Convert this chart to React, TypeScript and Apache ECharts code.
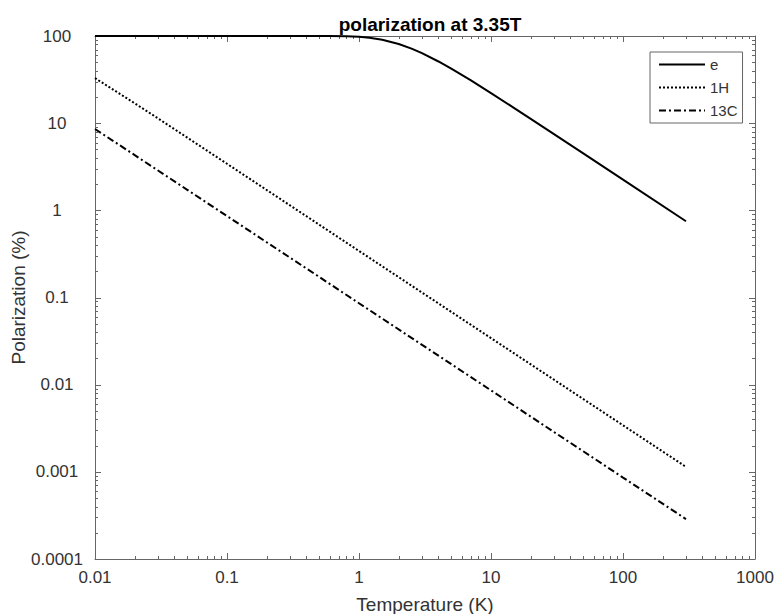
import React, { useEffect, useRef } from "react";
import * as echarts from "echarts";

// Temperatures (K) and polarization (%)
const temperatureE = [0.01, 0.1, 0.5, 0.6, 0.8, 1, 1.2, 1.5, 2, 2.5, 3, 4, 5, 7, 10, 15, 20, 30, 50, 100, 300];
const polarizationE = [100, 100, 100, 99.9, 99.3, 97.8, 95.4, 90.5, 81, 71.6, 63.5, 51, 42.2, 31.1, 22.1, 14.9, 11.2, 7.5, 4.5, 2.25, 0.75];

const temperatureH = [0.01, 0.02, 0.03, 0.05, 0.1, 0.3, 1, 3, 10, 30, 100, 300];
const polarizationH = [32.9, 16.9, 11.35, 6.83, 3.42, 1.14, 0.342, 0.114, 0.0342, 0.0114, 0.00342, 0.00114];

const temperatureC = [0.01, 0.02, 0.05, 0.1, 1, 10, 100, 300];
const polarizationC = [8.58, 4.3, 1.72, 0.86, 0.086, 0.0086, 0.00086, 0.000287];

const seriesNames = ["e", "1H", "13C"];

const xMin = 0.01;
const xMax = 1000;
const yMin = 0.0001;
const yMax = 100;
const xDecades = [0.01, 0.1, 1, 10, 100];
const yDecades = [0.0001, 0.001, 0.01, 0.1, 1, 10];
const minorMultipliers = [2, 3, 4, 5, 6, 7, 8, 9];

const axisColor = "#666666";
const labelColor = "#333333";
const fontFamily = "'Liberation Sans', Arial, Helvetica, sans-serif";

function zip(xs: number[], ys: number[]) {
  return xs.map((x, i) => [x, ys[i]]);
}

function fmt(v: number) {
  return String(parseFloat(Number(v).toPrecision(6)));
}

export default function App() {
  const ref = useRef<HTMLDivElement>(null);

  useEffect(() => {
    if (!ref.current) return;
    const chart = echarts.init(ref.current, undefined, { renderer: "svg" });

    const xTicks: number[][] = [];
    xDecades.forEach((d) => {
      xTicks.push([d, 1, 6]);
      minorMultipliers.forEach((m) => xTicks.push([d * m, 1, 3]));
    });
    xTicks.push([xMax, 1, 6]);
    const yTicks: number[][] = [];
    yDecades.forEach((d) => {
      yTicks.push([1, d, 6]);
      minorMultipliers.forEach((m) => yTicks.push([1, d * m, 3]));
    });
    yTicks.push([1, yMax, 6]);

    const baseX = {
      type: "log" as const,
      logBase: 10,
      min: xMin,
      max: xMax,
      interval: 1,
      axisLine: { show: true, lineStyle: { color: axisColor, width: 1 } },
      axisTick: { show: false },
      splitLine: { show: false },
      minorTick: { show: false },
    };
    const baseY = {
      type: "log" as const,
      logBase: 10,
      min: yMin,
      max: yMax,
      interval: 1,
      axisLine: { show: true, lineStyle: { color: axisColor, width: 1 } },
      axisTick: { show: false },
      splitLine: { show: false },
      minorTick: { show: false },
    };

    const tickLine = (x1: number, y1: number, x2: number, y2: number) => ({
      type: "line",
      shape: { x1, y1, x2, y2 },
      style: { stroke: axisColor, lineWidth: 1 },
    });

    chart.setOption({
      animation: false,
      backgroundColor: "#ffffff",
      title: {
        text: "polarization at 3.35T",
        left: 425,
        top: 10,
        textAlign: "center",
        textStyle: { fontFamily, fontSize: 19, fontWeight: "bold", color: "#000" },
      },
      legend: {
        data: seriesNames,
        orient: "vertical",
        left: 650,
        top: 52,
        itemWidth: 46,
        itemHeight: 14,
        itemGap: 8,
        padding: [5, 5, 5, 8],
        borderColor: axisColor,
        borderWidth: 1,
        backgroundColor: "#ffffff",
        itemStyle: { opacity: 0, color: "transparent", borderWidth: 0 },
        textStyle: { fontFamily, fontSize: 15, color: labelColor },
      },
      grid: { left: 95, right: 22, top: 36, bottom: 55, containLabel: false, outerBoundsMode: "none" },
      xAxis: [
        {
          ...baseX,
          position: "bottom",
          name: "Temperature (K)",
          nameLocation: "middle",
          nameGap: 36,
          nameMoveOverlap: false,
          nameTextStyle: { fontFamily, fontSize: 19, color: labelColor },
          axisLabel: { fontFamily, fontSize: 17, color: labelColor, margin: 10, formatter: fmt },
        },
        {
          ...baseX,
          position: "top",
          axisLabel: { show: false },
        },
      ],
      yAxis: [
        {
          ...baseY,
          position: "left",
          name: "Polarization (%)",
          nameLocation: "middle",
          nameGap: 67,
          nameMoveOverlap: false,
          nameTextStyle: { fontFamily, fontSize: 19, color: labelColor },
          axisLabel: { fontFamily, fontSize: 17, color: labelColor, margin: 38, align: "center", formatter: fmt },
        },
        {
          ...baseY,
          position: "right",
          axisLabel: { show: false },
        },
      ],
      series: [
        {
          name: "e",
          type: "line",
          data: zip(temperatureE, polarizationE),
          symbol: "none",
          smooth: false,
          lineStyle: { color: "#000", width: 2, type: "solid" },
          itemStyle: { color: "#000" },
        },
        {
          name: "1H",
          type: "line",
          data: zip(temperatureH, polarizationH),
          symbol: "none",
          lineStyle: { color: "#000", width: 2, type: [2, 2] },
          itemStyle: { color: "#000" },
        },
        {
          name: "13C",
          type: "line",
          data: zip(temperatureC, polarizationC),
          symbol: "none",
          lineStyle: { color: "#000", width: 2, type: [7, 3, 2, 3] },
          itemStyle: { color: "#000" },
        },
        {
          name: "xTicks",
          type: "custom",
          silent: true,
          clip: false,
          data: xTicks,
          renderItem: (params: any, api: any) => {
            const pt = api.coord([api.value(0), api.value(1)]);
            const len = api.value(2);
            const cs = params.coordSys;
            const x = Math.round(pt[0]) + 0.5;
            const bottom = cs.y + cs.height;
            return {
              type: "group",
              children: [
                tickLine(x, bottom, x, bottom - len),
                tickLine(x, cs.y, x, cs.y + len),
              ],
            };
          },
        },
        {
          name: "yTicks",
          type: "custom",
          silent: true,
          clip: false,
          data: yTicks,
          renderItem: (params: any, api: any) => {
            const pt = api.coord([api.value(0), api.value(1)]);
            const len = api.value(2);
            const cs = params.coordSys;
            const y = Math.round(pt[1]) + 0.5;
            const right = cs.x + cs.width;
            return {
              type: "group",
              children: [
                tickLine(cs.x, y, cs.x + len, y),
                tickLine(right, y, right - len, y),
              ],
            };
          },
        },
      ],
    });

    return () => chart.dispose();
  }, []);

  return (
    <div
      ref={ref}
      style={{ position: "fixed", left: 0, top: 0, width: 777, height: 614, background: "#fff" }}
    />
  );
}
